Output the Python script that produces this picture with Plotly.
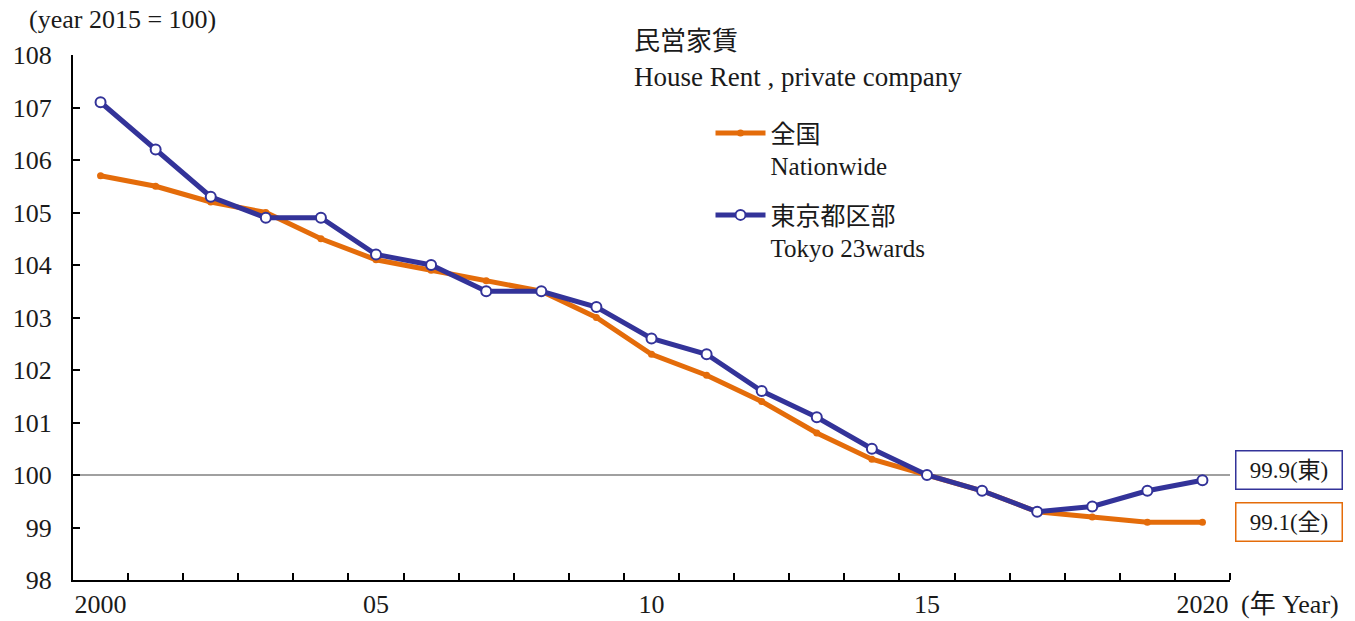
import plotly.graph_objects as go

years = list(range(2000, 2021))
nationwide = [105.7, 105.5, 105.2, 105.0, 104.5, 104.1, 103.9, 103.7, 103.5, 103.0,
              102.3, 101.9, 101.4, 100.8, 100.3, 100.0, 99.7, 99.3, 99.2, 99.1, 99.1]
tokyo = [107.1, 106.2, 105.3, 104.9, 104.9, 104.2, 104.0, 103.5, 103.5, 103.2,
         102.6, 102.3, 101.6, 101.1, 100.5, 100.0, 99.7, 99.3, 99.4, 99.7, 99.9]
x_tickvals = [2000, 2005, 2010, 2015, 2020]
x_ticktext = ["2000", "05", "10", "15", "2020"]
y_tickvals = list(range(98, 109))

ORANGE = "#E46C0A"
BLUE = "#333399"
TXT = "#1a1a1a"
FONT = "Liberation Serif, Noto Sans CJK JP"

fig = go.Figure()
fig.add_trace(go.Scatter(
    x=years, y=nationwide, mode="lines+markers", name="全国<br>Nationwide",
    legendgroup="a",
    line=dict(color=ORANGE, width=5),
    marker=dict(color=ORANGE, size=7, symbol="circle"),
))
fig.add_trace(go.Scatter(
    x=years, y=tokyo, mode="lines+markers", name="東京都区部<br>Tokyo 23wards",
    legendgroup="b",
    line=dict(color=BLUE, width=5),
    marker=dict(color="white", size=10, symbol="circle", line=dict(color=BLUE, width=2)),
))

fig.add_shape(type="line", xref="paper", yref="y", x0=0, x1=1, y0=100, y1=100,
              line=dict(color="#808080", width=1.5), layer="below")

fig.add_annotation(xref="paper", yref="y", x=1.0043, y=tokyo[-1], yshift=10,
                   text=f"{tokyo[-1]:.1f}(東)", showarrow=False, xanchor="left",
                   width=95, height=27, align="center",
                   font=dict(size=23, color=TXT, family=FONT),
                   bordercolor=BLUE, borderwidth=1.5, borderpad=5, bgcolor="white")
fig.add_annotation(xref="paper", yref="y", x=1.0043, y=nationwide[-1], yshift=0,
                   text=f"{nationwide[-1]:.1f}(全)", showarrow=False, xanchor="left",
                   width=95, height=27, align="center",
                   font=dict(size=23, color=TXT, family=FONT),
                   bordercolor=ORANGE, borderwidth=1.5, borderpad=5, bgcolor="white")

fig.add_annotation(xref="paper", yref="paper", x=-0.04, y=1.0667, yanchor="middle",
                   text="(year 2015 = 100)", showarrow=False, xanchor="left",
                   font=dict(size=26, color=TXT, family=FONT))
fig.add_annotation(xref="paper", yref="paper", x=1.0075, y=-0.0476, yanchor="middle",
                   text="(年 Year)", showarrow=False, xanchor="left",
                   font=dict(size=26, color=TXT, family=FONT))
fig.add_annotation(xref="paper", yref="paper", x=0.483, y=1.0248, yanchor="middle",
                   text="民営家賃", showarrow=False, xanchor="left",
                   font=dict(size=26, color=TXT, family=FONT))
fig.add_annotation(xref="paper", yref="paper", x=0.483, y=0.958, yanchor="middle",
                   text="House Rent , private company", showarrow=False, xanchor="left",
                   font=dict(size=27, color=TXT, family=FONT))

fig.update_layout(
    width=1355, height=621,
    margin=dict(l=73, r=125, t=55, b=41, autoexpand=False),
    plot_bgcolor="white", paper_bgcolor="white",
    font=dict(family=FONT, size=25, color=TXT),
    showlegend=True,
    legend=dict(x=0.551, y=0.895, xanchor="left", yanchor="top",
                font=dict(size=25, family=FONT, color=TXT),
                valign="top", tracegroupgap=14, itemwidth=50,
                bgcolor="rgba(0,0,0,0)"),
    xaxis=dict(range=[1999.5, 2020.5], tickvals=x_tickvals, ticktext=x_ticktext,
               ticks="", showgrid=False, zeroline=False, automargin=False,
               showline=True, linecolor="black", linewidth=2,
               tickfont=dict(size=26, family=FONT, color=TXT),
               minor=dict(tickvals=[y + 0.5 for y in years], ticks="inside",
                          ticklen=7, tickwidth=2, tickcolor="black", showgrid=False)),
    yaxis=dict(range=[98, 108], tickvals=y_tickvals, ticks="inside", ticklen=7,
               tickwidth=2, tickcolor="black", showgrid=False, zeroline=False,
               automargin=False,
               showline=True, linecolor="black", linewidth=2, ticklabelstandoff=14,
               tickfont=dict(size=26, family=FONT, color=TXT)),
)

fig.write_html("out.html", config={"displayModeBar": False},
               post_script="document.body.style.margin='0';document.body.style.overflow='hidden';")
